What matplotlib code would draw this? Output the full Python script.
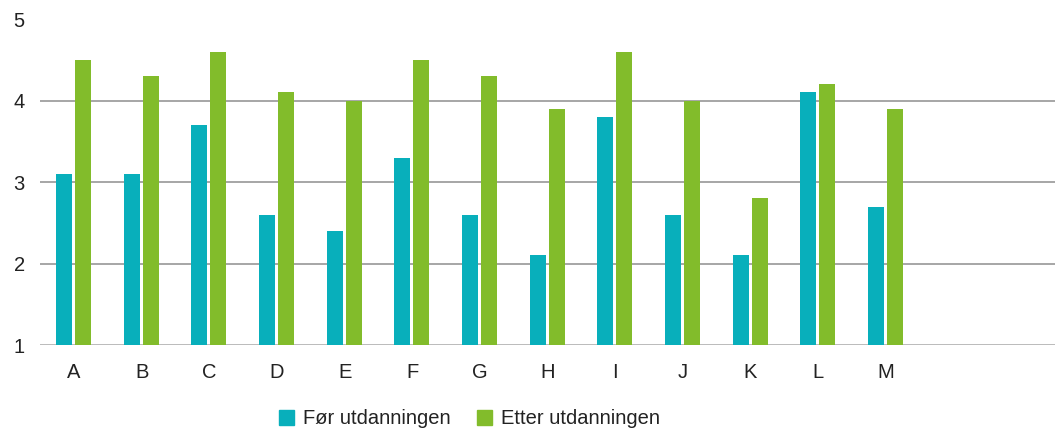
import numpy as np
import matplotlib
matplotlib.use("Agg")
import matplotlib.pyplot as plt
from matplotlib.patches import Patch

plt.rcParams["font.family"] = ["Liberation Sans", "DejaVu Sans"]

TEAL = "#08afbb"
GREEN = "#82bc2b"
GRID = "#a6a6a6"

categories = ["A", "B", "C", "D", "E", "F", "G", "H", "I", "J", "K", "L", "M"]
before = [3.1, 3.1, 3.7, 2.6, 2.4, 3.3, 2.6, 2.1, 3.8, 2.6, 2.1, 4.1, 2.7]
after = [4.5, 4.3, 4.6, 4.1, 4.0, 4.5, 4.3, 3.9, 4.6, 4.0, 2.8, 4.2, 3.9]
yticks = [1, 2, 3, 4, 5]

fig = plt.figure(figsize=(10.55, 4.34), dpi=100)
ax = fig.add_axes([0.038, 0.205, 0.962, 0.751])

x = np.arange(len(categories))
w = 0.235
ax.bar(x - 0.145, np.array(before) - 1, w, bottom=1, color=TEAL, zorder=3)
ax.bar(x + 0.135, np.array(after) - 1, w, bottom=1, color=GREEN, zorder=3)

ax.set_xlim(-0.5, 14.5)
ax.set_ylim(1, 5)
ax.set_yticks(yticks)
ax.set_yticklabels([str(t) for t in yticks])
for t in [1, 2, 3, 4]:
    ax.axhline(t, color=GRID, lw=1.8 if t == 1 else 1.4, zorder=1)

ax.set_xticks(x)
ax.set_xticklabels(categories)
ax.tick_params(axis="both", length=0, labelsize=14.5, colors="#222222")
ax.tick_params(axis="x", pad=13)
ax.tick_params(axis="y", pad=15)
for lab in ax.get_yticklabels():
    lab.set_horizontalalignment("center")
for s in ax.spines.values():
    s.set_visible(False)

handles = [Patch(color=TEAL, label="Før utdanningen"),
           Patch(color=GREEN, label="Etter utdanningen")]
fig.legend(handles=handles, loc="center", bbox_to_anchor=(0.445, 0.035), ncol=2,
           frameon=False, fontsize=14.5, handlelength=0.75, handleheight=0.75,
           handletextpad=0.45, columnspacing=1.3, labelcolor="#222222")

fig.savefig("out.png", dpi=100)
